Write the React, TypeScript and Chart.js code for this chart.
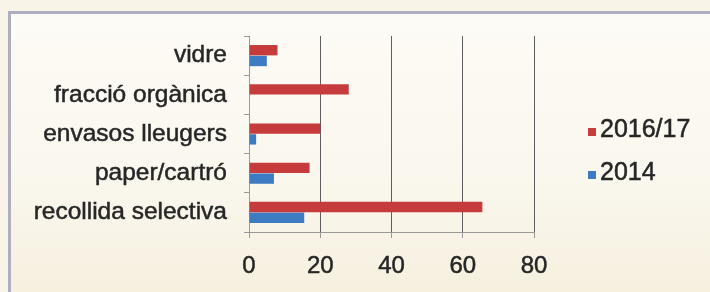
import { useEffect, useRef } from "react";
import { Chart, registerables } from "chart.js";

Chart.register(...registerables);

const categories = ["vidre", "fracció orgànica", "envasos lleugers", "paper/cartró", "recollida selectiva"];
const seriesLabels = ["2016/17", "2014"];
const values2016 = [8, 28, 20, 17, 65.5];
const values2014 = [5, 0, 2, 7, 15.5];
const xTickValues = [0, 20, 40, 60, 80];

const FONT = "'Liberation Sans', Arial, Helvetica, sans-serif";
const TEXT = "#262626";

const sideLegend = {
  id: "sideLegend",
  afterDraw(chart: any) {
    const ctx = chart.ctx;
    ctx.save();
    ctx.font = `25px ${FONT}`;
    ctx.textBaseline = "middle";
    ctx.textAlign = "left";
    ctx.lineWidth = 0.5;
    chart.data.datasets.forEach((ds: any, i: number) => {
      const cy = 130 + i * 43;
      ctx.fillStyle = ds.backgroundColor;
      ctx.fillRect(588, cy - 2, 8, 8);
      ctx.fillStyle = TEXT;
      ctx.strokeStyle = TEXT;
      ctx.fillText(ds.label, 600, cy);
      ctx.strokeText(ds.label, 600, cy);
    });
    ctx.restore();
  },
};

export default function App() {
  const canvasRef = useRef<HTMLCanvasElement | null>(null);

  useEffect(() => {
    if (!canvasRef.current) return;
    const chart = new Chart(canvasRef.current, {
      type: "bar",
      data: {
        labels: categories,
        datasets: [
          { label: seriesLabels[0], data: values2016, backgroundColor: "#c63c3d" },
          { label: seriesLabels[1], data: values2014, backgroundColor: "#3d7bc3" },
        ],
      },
      options: {
        indexAxis: "y",
        responsive: false,
        animation: false,
        devicePixelRatio: 1,
        layout: { padding: { left: 0, top: 36, right: 176, bottom: 0 } },
        datasets: { bar: { categoryPercentage: 0.55, barPercentage: 0.96 } },
        plugins: { legend: { display: false }, tooltip: { enabled: false } },
        scales: {
          x: {
            type: "linear",
            min: 0,
            max: 80,
            afterBuildTicks(scale: any) {
              scale.ticks = xTickValues.map((v) => ({ value: v }));
            },
            afterFit(scale: any) {
              scale.height = 60;
            },
            grid: {
              color: (c: any) => (c.tick && c.tick.value === 0 ? "rgba(0,0,0,0)" : "#5e5e5e"),
              tickColor: "#9a9a9a",
              tickLength: 6,
              lineWidth: 1,
            },
            border: { display: true, color: "#9a9a9a" },
            ticks: {
              padding: 14,
              color: TEXT,
              textStrokeColor: TEXT,
              textStrokeWidth: 0.5,
              font: { family: FONT, size: 24 },
            },
          },
          y: {
            type: "category",
            afterFit(scale: any) {
              scale.width = 249;
            },
            grid: {
              drawOnChartArea: false,
              drawTicks: true,
              tickLength: 5,
              color: "#9a9a9a",
              offset: true,
            },
            border: { display: true, color: "#9a9a9a" },
            ticks: {
              padding: 17,
              color: TEXT,
              textStrokeColor: TEXT,
              textStrokeWidth: 0.5,
              font: { family: FONT, size: 24.5 },
            },
          },
        },
      },
      plugins: [sideLegend],
    } as any);
    return () => chart.destroy();
  }, []);

  return (
    <div
      style={{
        position: "fixed",
        left: 0,
        top: 0,
        width: 710,
        height: 292,
        overflow: "hidden",
        background: "#f8f4e7",
      }}
    >
      <div
        style={{
          position: "absolute",
          left: 8,
          top: 11,
          width: 760,
          height: 320,
          border: "3px solid #afadc0",
          background: "linear-gradient(to bottom, #fdfbf5 0%, #faf7ee 50%, #f4edd9 100%)",
        }}
      />
      <canvas
        ref={canvasRef}
        width={710}
        height={292}
        style={{ position: "absolute", left: 0, top: 0, width: 710, height: 292 }}
      />
    </div>
  );
}
